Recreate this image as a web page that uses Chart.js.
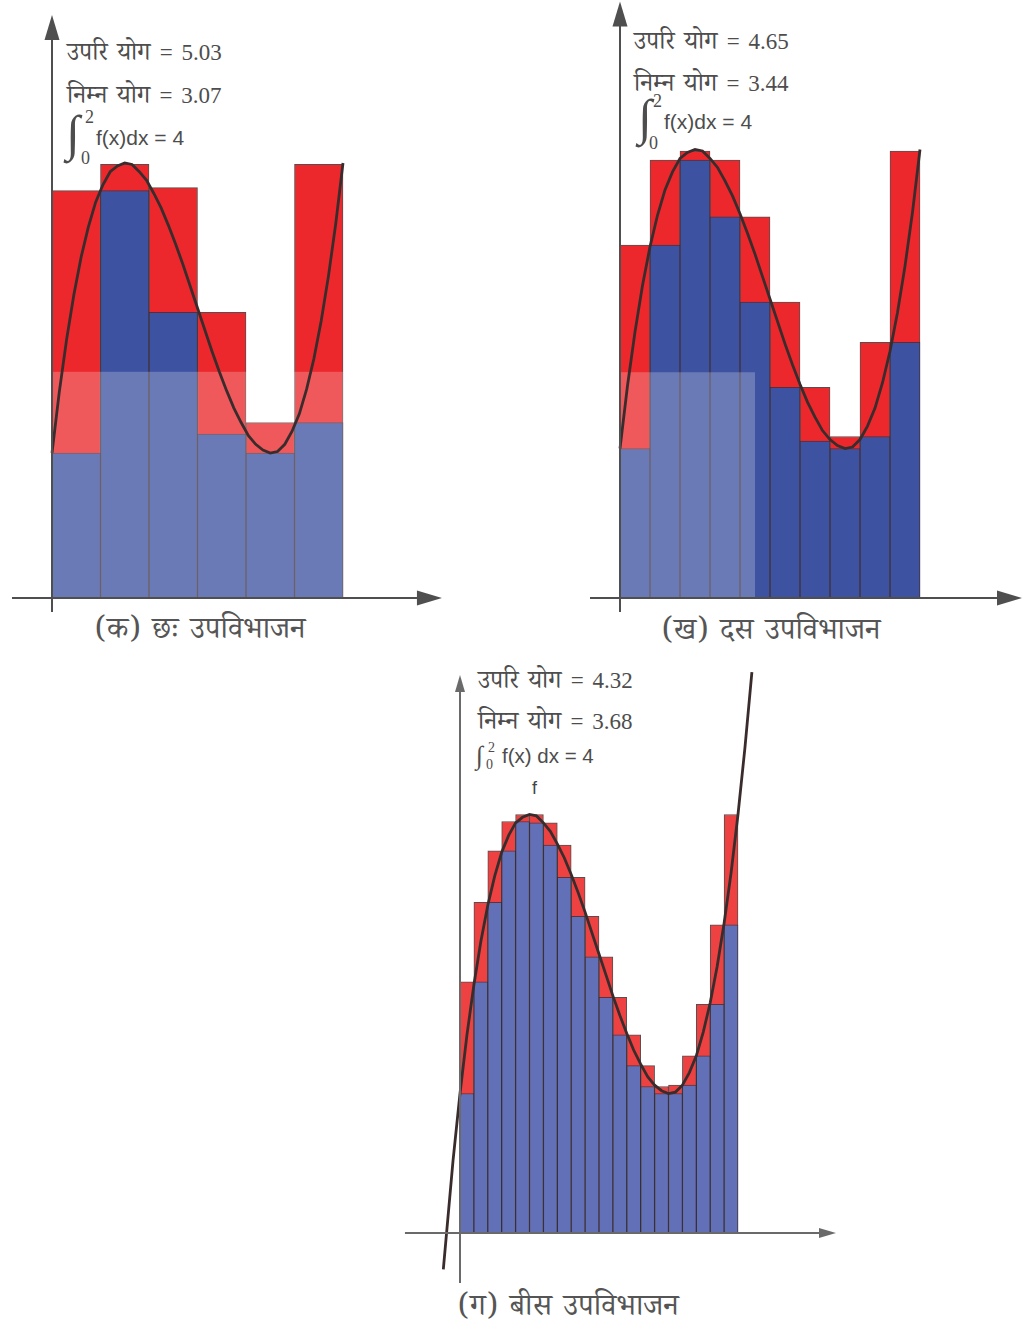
<!DOCTYPE html>
<html>
<head>
<meta charset="utf-8">
<script src="https://cdn.jsdelivr.net/npm/chart.js@4.4.1/dist/chart.umd.min.js"></script>
<style>
  html, body { margin: 0; padding: 0; background: #ffffff; }
  body { width: 1034px; height: 1327px; position: relative; overflow: hidden; }
  canvas { position: absolute; }
  .t { position: absolute; white-space: nowrap; color: #4d4d4d; line-height: 1;
       font-family: "Noto Serif Devanagari", "Noto Sans Devanagari", "Lohit Devanagari", "FreeSerif", "Liberation Serif", serif;
       font-size: 25px; word-spacing: 3px; }
  .num { font-family: "Liberation Serif", "Times New Roman", serif; font-size: 23px; }
  .sans { font-family: "Liberation Sans", Arial, sans-serif; word-spacing: 0; }
  .cap { font-size: 30px; color: #555; word-spacing: 4px; }
  .int { font-family: "Liberation Serif", serif; font-size: 50px; word-spacing: 0; }
  .lim { font-family: "Liberation Serif", serif; font-size: 18px; word-spacing: 0; }
</style>
</head>
<body>

<!-- chart (a) texts -->
<div class="t" style="left:67px;top:41px;">उपरि योग <span class="num">= 5.03</span></div>
<div class="t" style="left:67px;top:84px;">निम्न योग <span class="num">= 3.07</span></div>
<div class="t int" style="left:66px;top:108px;">∫</div>
<div class="t lim" style="left:85px;top:108px;">2</div>
<div class="t lim" style="left:81px;top:149px;">0</div>
<div class="t sans" style="left:96px;top:127px;font-size:21px;">f(x)dx = 4</div>
<div class="t sans" style="left:61px;top:411px;font-size:16px;color:#b85a5a;">f</div>
<div class="t cap" style="left:95px;top:619px;">(क) छः उपविभाजन</div>

<!-- chart (b) texts -->
<div class="t" style="left:634px;top:30px;">उपरि योग <span class="num">= 4.65</span></div>
<div class="t" style="left:634px;top:72px;">निम्न योग <span class="num">= 3.44</span></div>
<div class="t int" style="left:638px;top:92px;">∫</div>
<div class="t lim" style="left:653px;top:92px;">2</div>
<div class="t lim" style="left:649px;top:134px;">0</div>
<div class="t sans" style="left:664px;top:111px;font-size:21px;">f(x)dx = 4</div>
<div class="t sans" style="left:624px;top:428px;font-size:16px;color:#8a3a3a;">f</div>
<div class="t cap" style="left:662px;top:620px;">(ख) दस उपविभाजन</div>

<!-- chart (c) texts -->
<div class="t" style="left:478px;top:669px;">उपरि योग <span class="num">= 4.32</span></div>
<div class="t" style="left:478px;top:710px;">निम्न योग <span class="num">= 3.68</span></div>
<div class="t" style="left:476px;top:743px;font-family:'Liberation Serif',serif;font-size:26px;word-spacing:0;">∫</div>
<div class="t lim" style="left:488px;top:741px;font-size:14px;">2</div>
<div class="t lim" style="left:486px;top:758px;font-size:14px;">0</div>
<div class="t sans" style="left:502px;top:746px;font-size:20.5px;">f(x) dx = 4</div>
<div class="t sans" style="left:532px;top:779px;font-size:18px;color:#444;">f</div>
<div class="t cap" style="left:458px;top:1296px;">(ग) बीस उपविभाजन</div>

<script>
// ---------------- data ----------------
const domain = [0, 2];

// (a) six subintervals
const upperA = [2.81, 2.99, 2.83, 1.97, 1.21, 2.99];
const lowerA = [1.00, 2.81, 1.97, 1.13, 1.00, 1.21];

// (b) ten subintervals
const upperB = [2.36, 2.93, 2.99, 2.93, 2.55, 1.98, 1.41, 1.08, 1.71, 2.99];
const lowerB = [1.00, 2.36, 2.93, 2.55, 1.98, 1.41, 1.05, 1.00, 1.08, 1.71];

// (c) twenty subintervals
const upperC = [1.80, 2.37, 2.74, 2.95, 3.00, 3.00, 2.94, 2.78, 2.55, 2.27,
                1.98, 1.69, 1.42, 1.20, 1.05, 1.06, 1.27, 1.64, 2.21, 3.00];
const lowerC = [1.00, 1.80, 2.37, 2.74, 2.95, 2.94, 2.78, 2.55, 2.27, 1.98,
                1.69, 1.42, 1.20, 1.05, 1.00, 1.00, 1.06, 1.27, 1.64, 2.21];

// curve f
const curveX = [-0.12, -0.05, 0.00, 0.05, 0.10, 0.15, 0.20, 0.25, 0.30, 0.35, 0.40, 0.45, 0.50,
                0.55, 0.60, 0.65, 0.70, 0.75, 0.80, 0.85, 0.90, 0.95, 1.00, 1.05, 1.10, 1.15,
                1.20, 1.25, 1.30, 1.35, 1.40, 1.45, 1.50, 1.55, 1.60, 1.65, 1.70, 1.75, 1.80,
                1.85, 1.90, 1.95, 2.00, 2.05, 2.10];
const curveY = [-0.26, 0.52, 1.00, 1.42, 1.78, 2.09, 2.35, 2.56, 2.73, 2.85, 2.94, 2.98, 3.00,
                2.99, 2.94, 2.88, 2.79, 2.69, 2.57, 2.44, 2.30, 2.15, 2.00, 1.85, 1.70, 1.56,
                1.43, 1.31, 1.21, 1.12, 1.06, 1.02, 1.00, 1.01, 1.06, 1.15, 1.27, 1.44, 1.65,
                1.91, 2.22, 2.58, 3.00, 3.48, 4.02];

// ---------------- layout / styles ----------------
const charts = [
  { upper: upperA, lower: lowerA, curveRange: [0, 2],
    box: { left: 0, top: 0, width: 470, height: 650 },
    origin: { x: 52, y: 598 }, unit: { x: 145.5, y: 145 },
    xAxis: [-0.275, 2.68], yAxis: [-0.097, 4.02],
    arrow: { len: 25, hw: 7.5 }, axisColor: '#4f4f4f', axisWidth: 2,
    red: 'rgb(236,40,44)', blue: 'rgb(62,82,162)',
    fade: { x: [0, 2], y: [0, 1.56] } },
  { upper: upperB, lower: lowerB, curveRange: [0, 2],
    box: { left: 570, top: 0, width: 464, height: 650 },
    origin: { x: 620, y: 598 }, unit: { x: 150, y: 149.5 },
    xAxis: [-0.2, 2.68], yAxis: [-0.094, 3.99],
    arrow: { len: 25, hw: 7.5 }, axisColor: '#4f4f4f', axisWidth: 2,
    red: 'rgb(236,40,44)', blue: 'rgb(62,82,162)',
    fade: { x: [0, 0.9], y: [0, 1.51] } },
  { upper: upperC, lower: lowerC, curveRange: [-0.2, 2.2],
    box: { left: 390, top: 660, width: 470, height: 640 },
    origin: { x: 460, y: 1233 }, unit: { x: 139, y: 139.5 },
    xAxis: [-0.396, 2.705], yAxis: [-0.358, 4.0],
    arrow: { len: 17, hw: 5 }, axisColor: '#6a6a6a', axisWidth: 2,
    red: 'rgb(238,66,66)', blue: 'rgb(98,113,183)',
    fade: null }
];

function drawArrow(ctx, x1, y1, x2, y2, len, hw) {
  const a = Math.atan2(y2 - y1, x2 - x1);
  const c = Math.cos(a), s = Math.sin(a);
  ctx.beginPath();
  ctx.moveTo(x1, y1);
  ctx.lineTo(x2 - c * len * 0.7, y2 - s * len * 0.7);
  ctx.stroke();
  ctx.beginPath();
  ctx.moveTo(x2, y2);
  ctx.lineTo(x2 - c * len - s * hw, y2 - s * len + c * hw);
  ctx.lineTo(x2 - c * len + s * hw, y2 - s * len - c * hw);
  ctx.closePath();
  ctx.fill();
}

charts.forEach((g) => {
  const n = g.upper.length;
  const h = (domain[1] - domain[0]) / n;
  const centers = g.upper.map((_, i) => domain[0] + (i + 0.5) * h);
  const upperPts = g.upper.map((v, i) => ({ x: centers[i], y: v }));
  const lowerPts = g.lower.map((v, i) => ({ x: centers[i], y: v }));
  const curvePts = curveX.map((x, i) => ({ x, y: curveY[i] }))
    .filter(p => p.x >= g.curveRange[0] - 1e-9 && p.x <= g.curveRange[1] + 1e-9);

  const b = g.box;
  const cv = document.createElement('canvas');
  cv.width = b.width; cv.height = b.height;
  cv.style.left = b.left + 'px'; cv.style.top = b.top + 'px';
  cv.style.width = b.width + 'px'; cv.style.height = b.height + 'px';
  document.body.appendChild(cv);

  const xMin = (b.left - g.origin.x) / g.unit.x;
  const xMax = (b.left + b.width - g.origin.x) / g.unit.x;
  const yMax = (g.origin.y - b.top) / g.unit.y;
  const yMin = (g.origin.y - (b.top + b.height)) / g.unit.y;

  const deco = {
    id: 'deco',
    afterDatasetDraw(chart, args) {
      if (args.index !== 1 || !g.fade) return;
      const { ctx, scales: { x, y } } = chart;
      const x0 = x.getPixelForValue(g.fade.x[0]), x1 = x.getPixelForValue(g.fade.x[1]);
      const y0 = y.getPixelForValue(g.fade.y[0]), y1 = y.getPixelForValue(g.fade.y[1]);
      ctx.save();
      ctx.fillStyle = 'rgba(255,255,255,0.23)';
      ctx.fillRect(x0, y1, x1 - x0, y0 - y1);
      ctx.restore();
    },
    afterDraw(chart) {
      const { ctx, scales: { x, y } } = chart;
      const ox = x.getPixelForValue(0), oy = y.getPixelForValue(0);
      ctx.save();
      ctx.strokeStyle = g.axisColor; ctx.fillStyle = g.axisColor;
      ctx.lineWidth = g.axisWidth;
      drawArrow(ctx, x.getPixelForValue(g.xAxis[0]), oy, x.getPixelForValue(g.xAxis[1]), oy, g.arrow.len, g.arrow.hw);
      drawArrow(ctx, ox, y.getPixelForValue(g.yAxis[0]), ox, y.getPixelForValue(g.yAxis[1]), g.arrow.len, g.arrow.hw);
      ctx.restore();
    }
  };

  new Chart(cv, {
    type: 'bar',
    data: {
      datasets: [
        { type: 'line', data: curvePts, borderColor: '#3a2c2c', borderWidth: 2.8,
          pointRadius: 0, fill: false, tension: 0, order: 0 },
        { type: 'bar', data: lowerPts, backgroundColor: g.blue, borderColor: 'rgba(45,45,55,0.75)',
          borderWidth: 1, borderSkipped: 'start', grouped: false,
          barPercentage: 1, categoryPercentage: 1, order: 1 },
        { type: 'bar', data: upperPts, backgroundColor: g.red, borderColor: 'rgba(45,35,35,0.8)',
          borderWidth: 1, borderSkipped: 'start', grouped: false,
          barPercentage: 1, categoryPercentage: 1, order: 2 }
      ]
    },
    options: {
      responsive: false, animation: false, devicePixelRatio: 1, events: [],
      layout: { padding: 0 },
      plugins: { legend: { display: false }, tooltip: { enabled: false } },
      scales: {
        x: { type: 'linear', display: false, min: xMin, max: xMax, offset: false,
             ticks: { stepSize: 1 }, grid: { display: false } },
        y: { type: 'linear', display: false, min: yMin, max: yMax,
             ticks: { stepSize: 1 }, grid: { display: false } }
      }
    },
    plugins: [deco]
  });
});
</script>
</body>
</html>
